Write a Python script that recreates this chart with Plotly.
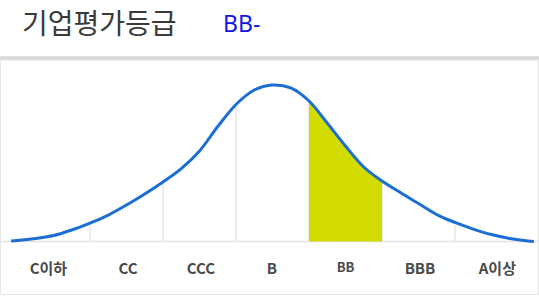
import plotly.graph_objects as go

# ---- data ----
title_text = "기업평가등급"
grade_text = "BB-"
categories = ["C이하", "CC", "CCC", "B", "BB", "BBB", "A이상"]
label_pos = [-0.07, 1.02, 2.02, 2.99, 4.0, 5.02, 6.08]
selected = "BB"
boundaries = [0.5, 1.5, 2.5, 3.5, 4.5, 5.5]

curve_x = [-0.58, -0.5, -0.25, 0, 0.25, 0.5, 0.75, 1, 1.25, 1.5, 1.75, 2, 2.25, 2.5,
           2.75, 3, 3.25, 3.5, 3.75, 4, 4.25, 4.5, 4.75, 5, 5.25, 5.5, 5.75, 6, 6.25,
           6.5, 6.58]
curve_y = [0.3, 0.6, 1.9, 3.8, 7.3, 11.7, 16.8, 23.2, 30.2, 37.8, 46.3, 57.5, 73.0, 87.0,
           96.2, 99.4, 97.5, 89.2, 75.2, 60.6, 47.3, 38.4, 31.1, 24.1, 17.1, 12.1, 7.9,
           4.4, 1.9, 0.3, 0.0]

W, H = 539, 297
BASE_PX, SCALE = 241.5, 1.575   # baseline pixel row, px per unit
X0, XS = 53.5, 73.0             # pixel of category 0, px per category


def ypx(py):
    return (BASE_PX - py) / SCALE


sel_idx = categories.index(selected)
lo, hi = sel_idx - 0.5, sel_idx + 0.5
fill_x = [x for x in curve_x if lo <= x <= hi]
fill_y = [y for x, y in zip(curve_x, curve_y) if lo <= x <= hi]


def curve_at(b):
    for i in range(len(curve_x) - 1):
        if curve_x[i] <= b <= curve_x[i + 1]:
            t = (b - curve_x[i]) / (curve_x[i + 1] - curve_x[i])
            return curve_y[i] + t * (curve_y[i + 1] - curve_y[i])
    return 0

fig = go.Figure()

# vertical grid lines under curve
for b in boundaries:
    fig.add_trace(go.Scatter(x=[b, b], y=[0, curve_at(b)], mode="lines",
                             line=dict(color="#dcdcdc", width=1), hoverinfo="skip",
                             showlegend=False))

# baseline
fig.add_trace(go.Scatter(x=[(0 - X0) / XS, (W - X0) / XS], y=[0, 0], mode="lines",
                         line=dict(color="#e3e3e3", width=1.5), hoverinfo="skip",
                         showlegend=False))

# highlighted area
fig.add_trace(go.Scatter(x=[fill_x[0]] + fill_x + [fill_x[-1]],
                         y=[0] + fill_y + [0], mode="lines", fill="toself",
                         fillcolor="#d3dc00", line=dict(width=0, color="#d3dc00"),
                         hoverinfo="skip", showlegend=False))

# curve
fig.add_trace(go.Scatter(x=curve_x, y=curve_y, mode="lines",
                         line=dict(color="#1b6fd4", width=3, shape="spline", smoothing=1.0),
                         hoverinfo="skip", showlegend=False))

# category labels
for cat, xp in zip(categories, label_pos):
    is_sel = cat == selected
    fig.add_trace(go.Scatter(
        x=[xp], y=[ypx(268.5 if is_sel else 270.5)], mode="text", text=[f"<b>{cat}</b>"],
        textfont=dict(family="Noto Sans CJK KR", size=13 if is_sel else 15, color="#4a4a4a"),
        hoverinfo="skip", showlegend=False))

fig.update_layout(
    width=W, height=H, margin=dict(l=0, r=0, t=0, b=0),
    paper_bgcolor="white", plot_bgcolor="white",
    xaxis=dict(range=[(0 - X0) / XS, (W - X0) / XS], visible=False, fixedrange=True),
    yaxis=dict(range=[ypx(H), ypx(0)], visible=False, fixedrange=True),
    shapes=[
        dict(type="rect", xref="paper", yref="paper", x0=0.5 / W, x1=(W - 0.5) / W,
             y0=(H - 294.5) / H, y1=(H - 60) / H, line=dict(color="#e6e6e6", width=1)),
        dict(type="line", xref="paper", yref="paper", x0=0, x1=1,
             y0=(H - 58) / H, y1=(H - 58) / H, line=dict(color="#d6d9d6", width=3.5)),
    ],
    annotations=[
        dict(text=title_text, x=20 / W, y=(H - 22) / H, xref="paper", yref="paper",
             xanchor="left", yanchor="middle", showarrow=False,
             font=dict(family="Noto Sans CJK KR", size=28, color="#3a3a3a")),
        dict(text=grade_text, x=221 / W, y=(H - 23) / H, xref="paper", yref="paper",
             xanchor="left", yanchor="middle", showarrow=False,
             font=dict(family="Noto Sans", size=23, color="#1414e6")),
    ],
)

fig.write_html("out.html", config={"displayModeBar": False},
               post_script="document.body.style.margin='0';document.body.style.overflow='hidden';")
